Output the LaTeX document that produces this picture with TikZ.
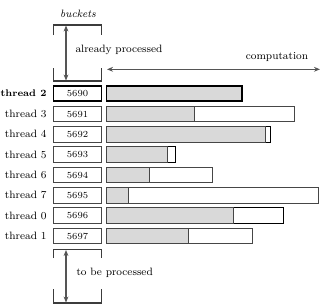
\documentclass[tikz,border=0pt]{standalone}
\usepackage{fontspec}
\usetikzlibrary{arrows.meta}

\tikzset{every picture/.style={line width=0.75pt}}
\tikzset{
  bucketbox/.style={draw={rgb, 255:red, 70; green, 70; blue, 70}, fill=white, minimum width=36pt, minimum height=11.6pt, inner sep=0pt, font=\scriptsize},
  curbox/.style={bucketbox, draw=black, line width=1.4pt},
  threadlbl/.style={anchor=east, inner sep=0.75pt, font=\footnotesize},
  curlbl/.style={threadlbl, font=\fontsize{7.2}{9}\selectfont\bfseries},
  barfree/.style={draw={rgb, 255:red, 70; green, 70; blue, 70}, fill=white},
  bardone/.style={draw={rgb, 255:red, 70; green, 70; blue, 70}, fill={rgb, 255:red, 217; green, 217; blue, 217}},
  dblarrow/.style={draw={rgb, 255:red, 85; green, 85; blue, 85}, line width=0.9pt, {Stealth[length=4.5pt,width=3.6pt]}-{Stealth[length=4.5pt,width=3.6pt]}},
  bracket/.style={draw={rgb, 255:red, 60; green, 60; blue, 60}, line width=0.8pt}
}

\begin{document}
\begin{tikzpicture}[x=0.75pt,y=0.75pt,yscale=-1,xscale=1]
\useasboundingbox (0,0) rectangle (332,305);

%Brackets above and below the buckets
\draw [bracket] (53.5,35) -- (53.5,25) -- (101.5,25) -- (101.5,35) ;
\draw [bracket] (53.5,68) -- (53.5,81) -- (101.5,81) -- (101.5,68) ;
\draw [bracket] (53.5,258) -- (53.5,249.5) -- (101.5,249.5) -- (101.5,258) ;
\draw [bracket] (53.5,289) -- (53.5,303) -- (101.5,303) -- (101.5,289) ;

% Text Node
\node (buckets) at (78,14) {\footnotesize\itshape buckets};
% Text Node
\node (done) [anchor=west, inner sep=0.75pt] at (74,50) {\footnotesize already processed};
% Text Node
\node (todo) [anchor=west, inner sep=0.75pt] at (75,273) {\footnotesize to be processed};
% Text Node
\node (comp) at (277,57) {\footnotesize computation};

%Arrows
\coordinate (doneA) at (66,25.5);
\coordinate (doneB) at (66,80.5);
\coordinate (todoA) at (66,250);
\coordinate (todoB) at (66,302.5);
\coordinate (compA) at (107,69.3);
\coordinate (compB) at (320,69.3);
\draw [dblarrow] (doneA) -- (doneB) ;
\draw [dblarrow] (todoA) -- (todoB) ;
\draw [dblarrow] (compA) -- (compB) ;

%Thread labels
\node (th2) [curlbl] at (48,93.5) {thread 2};
\node (th3) [threadlbl] at (48,114) {thread 3};
\node (th4) [threadlbl] at (48,134.3) {thread 4};
\node (th5) [threadlbl] at (48,154.6) {thread 5};
\node (th6) [threadlbl] at (48,175) {thread 6};
\node (th7) [threadlbl] at (48,195.3) {thread 7};
\node (th0) [threadlbl] at (48,215.6) {thread 0};
\node (th1) [threadlbl] at (48,236) {thread 1};

%Buckets
\node (b5690) [curbox] at (77.5,93.5) {5690};
\node (b5691) [bucketbox] at (77.5,114) {5691};
\node (b5692) [bucketbox] at (77.5,134.3) {5692};
\node (b5693) [bucketbox] at (77.5,154.6) {5693};
\node (b5694) [bucketbox] at (77.5,175) {5694};
\node (b5695) [bucketbox] at (77.5,195.3) {5695};
\node (b5696) [bucketbox] at (77.5,215.6) {5696};
\node (b5697) [bucketbox] at (77.5,236) {5697};

%Shape: Rectangle -- thread 2
\draw [bardone, draw=black, line width=1.4pt] (106.5,85.8) rectangle (242,101.2) ;
%Shape: Rectangle -- thread 3
\draw [barfree] (106.5,106.3) rectangle (294.3,121.7) ;
\draw [bardone] (106.5,106.3) rectangle (194.3,121.7) ;
%Shape: Rectangle -- thread 4
\draw [barfree, draw=black] (106.5,126.6) rectangle (270.7,142) ;
\draw [bardone] (106.5,126.6) rectangle (265.7,142) ;
%Shape: Rectangle -- thread 5
\draw [barfree, draw=black] (106.5,146.9) rectangle (175.7,162.3) ;
\draw [bardone] (106.5,146.9) rectangle (167.7,162.3) ;
%Shape: Rectangle -- thread 6
\draw [barfree] (106.5,167.3) rectangle (212.3,182.7) ;
\draw [bardone] (106.5,167.3) rectangle (149.3,182.7) ;
%Shape: Rectangle -- thread 7
\draw [barfree] (106.5,187.6) rectangle (318,203) ;
\draw [bardone] (106.5,187.6) rectangle (128,203) ;
%Shape: Rectangle -- thread 0
\draw [barfree, draw=black] (106.5,207.9) rectangle (283.7,223.3) ;
\draw [bardone] (106.5,207.9) rectangle (233.7,223.3) ;
%Shape: Rectangle -- thread 1
\draw [barfree] (106.5,228.3) rectangle (252,243.7) ;
\draw [bardone] (106.5,228.3) rectangle (188.7,243.7) ;

\end{tikzpicture}
\end{document}
